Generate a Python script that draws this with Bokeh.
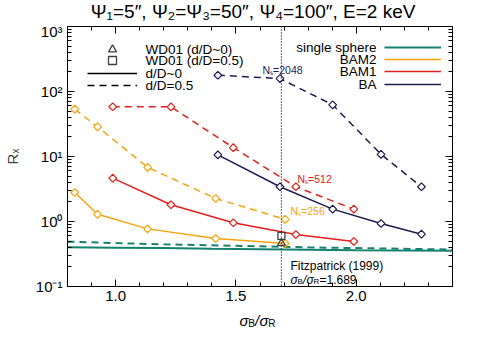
import math
from bokeh.plotting import figure
from bokeh.layouts import column
from bokeh.models import (Label, Legend, LegendItem, Span, LogAxis, LinearAxis,
                          FixedTicker, CustomJSTickFormatter)
from bokeh.core.properties import value
from bokeh.embed import file_html
from bokeh.resources import INLINE

# ---------------- data ----------------
ss_x = [0.8, 1.0, 1.2, 1.4, 1.6, 1.8, 2.0, 2.2, 2.4]
ss_solid = [0.40, 0.395, 0.39, 0.38, 0.375, 0.368, 0.362, 0.358, 0.354]
ss_dash = [0.49, 0.465, 0.445, 0.43, 0.415, 0.40, 0.39, 0.38, 0.37]

bam2_x = [0.83, 0.925, 1.133, 1.416, 1.705]
bam2_solid = [2.79, 1.29, 0.77, 0.547, 0.459]
bam2_dash = [53.5, 28.6, 6.8, 2.26, 1.08]

bam1_x = [0.988, 1.23, 1.489, 1.749, 1.99]
bam1_solid = [4.64, 1.81, 0.955, 0.63, 0.492]
bam1_dash = [58.2, 58.0, 13.7, 3.42, 1.55]

ba_x = [1.425, 1.683, 1.902, 2.103, 2.271]
ba_solid = [10.6, 3.42, 1.55, 0.93, 0.638]
ba_dash = [178, 158, 62.4, 10.8, 3.42]

wd01_x = [1.689]
wd01_d0 = [0.464]
wd01_d05 = [0.60]

fitz_ratio = 1.689

x_major = [1.0, 1.5, 2.0]
x_minor = [0.9, 1.1, 1.2, 1.3, 1.4, 1.6, 1.7, 1.8, 1.9, 2.1, 2.2, 2.3]
y_major = [0.1, 1, 10, 100, 1000]
y_minor = [m * d for d in [0.1, 1, 10, 100] for m in range(2, 10)]

TITLE = "\u03a8\u2081=5\u2033,  \u03a8\u2082=\u03a8\u2083=50\u2033,  \u03a8\u2084=100\u2033,  E=2 keV"

TEAL = "#14826f"
ORANGE = "#f5a30f"
RED = "#e0201a"
NAVY = "#1c1c52"
GRAY = "#404040"
FONT = "Liberation Sans"

W = 462
ML, MR = 60, 10
FW = W - ML - MR  # 392


def strip(height):
    f = figure(width=W, height=height, x_range=(0, FW), y_range=(0, height),
               output_backend="svg", toolbar_location=None,
               x_axis_location=None, y_axis_location=None,
               min_border_left=ML, min_border_right=MR, min_border_top=0,
               min_border_bottom=0)
    f.title.visible = False
    f.grid.visible = False
    f.outline_line_color = None
    return f

# ---------------- title strip ----------------
TH = 22
tfig = strip(TH)
tfig.text(x=[197], y=[11.5], text=[TITLE], text_align="center", text_baseline="middle",
          text_font=value(FONT), text_font_size="19px", text_color="black")

# ---------------- main plot ----------------
p = figure(width=W, height=286, x_range=(0.8, 2.4), y_range=(0.1, 1000),
           y_axis_type="log", output_backend="svg", toolbar_location=None,
           min_border_left=ML, min_border_right=MR, min_border_top=4,
           min_border_bottom=22)
p.title.visible = False
p.grid.visible = False
p.outline_line_color = "black"
p.background_fill_color = "white"

sup = CustomJSTickFormatter(code="""
const e = Math.round(Math.log10(tick));
const s = {"-1": "\u207b\u00b9", "0": "\u2070", "1": "\u00b9", "2": "\u00b2", "3": "\u00b3"};
return "10" + s[String(e)];
""")
onedec = CustomJSTickFormatter(code="return tick.toFixed(1);")
blank = CustomJSTickFormatter(code="return '';")

def style_axis(ax):
    ax.axis_line_color = "black"
    ax.major_tick_in = 7
    ax.major_tick_out = 0
    ax.minor_tick_in = 4
    ax.minor_tick_out = 0
    ax.major_tick_line_color = "black"
    ax.minor_tick_line_color = "black"
    ax.major_label_text_font = FONT
    ax.major_label_text_color = "black"

xa = p.xaxis[0]
xa.ticker = FixedTicker(ticks=x_major, minor_ticks=x_minor)
xa.formatter = onedec
style_axis(xa)
xa.major_label_text_font_size = "15px"
xa.major_label_standoff = 4

ya = p.yaxis[0]
ya.ticker = FixedTicker(ticks=y_major, minor_ticks=y_minor)
ya.formatter = sup
style_axis(ya)
ya.major_label_text_font_size = "15px"
ya.major_label_standoff = 5
ya.axis_label = "R\u2093"
ya.axis_label_text_font = FONT
ya.axis_label_text_font_style = "normal"
ya.axis_label_text_font_size = "15px"
ya.axis_label_standoff = 12

top = LinearAxis(ticker=FixedTicker(ticks=x_major, minor_ticks=x_minor), formatter=blank)
style_axis(top)
top.major_label_text_font_size = "0px"
top.major_label_standoff = 0
p.add_layout(top, "above")
right = LogAxis(ticker=FixedTicker(ticks=y_major, minor_ticks=y_minor), formatter=blank)
style_axis(right)
right.major_label_text_font_size = "0px"
right.major_label_standoff = 0
p.add_layout(right, "right")

# --------------- series ---------------
DASH = "7 5"
ss_s = p.line(ss_x, ss_solid, line_color=TEAL, line_width=2)
p.line(ss_x, ss_dash, line_color=TEAL, line_width=2, line_dash=DASH)

series = []
for xs, sol, das, col in [(bam2_x, bam2_solid, bam2_dash, ORANGE),
                          (bam1_x, bam1_solid, bam1_dash, RED),
                          (ba_x, ba_solid, ba_dash, NAVY)]:
    r = p.line(xs, sol, line_color=col, line_width=1.5)
    p.line(xs, das, line_color=col, line_width=1.5, line_dash=DASH)
    for ys in (sol, das):
        p.scatter(xs, ys, marker="square", angle=math.pi / 4, size=5.5,
                  fill_color="white", line_color=col, line_width=1.2)
    series.append(r)

p.add_layout(Span(location=fitz_ratio, dimension="height", line_color="black",
                  line_dash="1 2", line_width=1.2))

tri = p.scatter(wd01_x, wd01_d0, marker="triangle", size=8, fill_color=None,
                line_color=GRAY, line_width=1.3)
sq = p.scatter(wd01_x, wd01_d05, marker="square", size=7, fill_color=None,
               line_color=GRAY, line_width=1.3)

nan = float("nan")
blk_solid = p.line([nan], [nan], line_color="black", line_width=1.5)
blk_dash = p.line([nan], [nan], line_color="black", line_width=1.5, line_dash=DASH)

# --------------- legends (glyph swatches) ---------------
def swatch(renderer, vx, vy, gw, gh):
    lg = Legend(items=[LegendItem(label=" ", renderers=[renderer])], location=(vx, vy),
                glyph_width=gw, glyph_height=gh, label_height=gh, label_standoff=0,
                label_width=1, label_text_font_size="1px", padding=0, margin=0, spacing=0,
                background_fill_alpha=0, border_line_color=None, inactive_fill_alpha=0)
    p.add_layout(lg)

swatch(tri, 35, 227, 20, 20)
swatch(sq, 35, 216, 20, 20)
swatch(blk_solid, 20, 208, 50, 10)
swatch(blk_dash, 20, 196, 50, 10)

def lab(x, y, text, size, color="black", align="left", baseline="middle", style="normal"):
    p.add_layout(Label(x=x, y=y, x_units="screen", y_units="screen", text=text,
                       text_align=align, text_baseline=baseline, text_font=FONT,
                       text_font_size=size, text_color=color, text_font_style=style))

right_items = [(ss_s, "single sphere", 239), (series[0], "BAM2", 227),
               (series[1], "BAM1", 215), (series[2], "BA", 202)]
for r, txt, yc in right_items:
    swatch(r, 317, yc - 5, 57, 10)
    lab(309, yc, txt, "13.5px", align="right")

for txt, yc in [("WD01 (d/D~0)", 237), ("WD01 (d/D=0.5)", 226),
                ("d/D~0", 213), ("d/D=0.5", 201)]:
    lab(78, yc, txt, "13.5px")

# annotations
lab(195, 217, "N\u209b=2048", "10.5px", NAVY)
lab(230, 108, "N\u209b=512", "10.5px", RED)
lab(223, 76, "N\u209b=256", "10.5px", ORANGE)
lab(223, 21, "Fitzpatrick (1999)", "12px")
lab(223, 7, "\u03c3", "12px", baseline="alphabetic", style="italic")
lab(230, 5, "B", "8px", baseline="alphabetic")
lab(235.5, 7, "/", "12px", baseline="alphabetic", style="italic")
lab(239, 7, "\u03c3", "12px", baseline="alphabetic", style="italic")
lab(246, 5, "R", "8px", baseline="alphabetic")
lab(252, 7, "=1.689", "12px", baseline="alphabetic")

# ---------------- x-axis title strip ----------------
XH = 22
xfig = strip(XH)
pieces = [(175, 10, "\u03c3", "15px", "italic"), (184, 7.5, "B", "10px", "normal"),
          (191, 10, "/", "15px", "italic"), (195.5, 10, "\u03c3", "15px", "italic"),
          (204.5, 7.5, "R", "10px", "normal")]
for px_, py_, t, fs, st in pieces:
    xfig.text(x=[px_], y=[py_], text=[t], text_align="left", text_baseline="alphabetic",
              text_font=value(FONT), text_font_size=fs, text_font_style=st, text_color="black")

layout = column(tfig, p, xfig, spacing=0)
html = file_html(layout, INLINE)
html = html.replace("</head>", "<style>html, body { overflow: hidden; }</style></head>", 1)
open("out.html", "w").write(html)
